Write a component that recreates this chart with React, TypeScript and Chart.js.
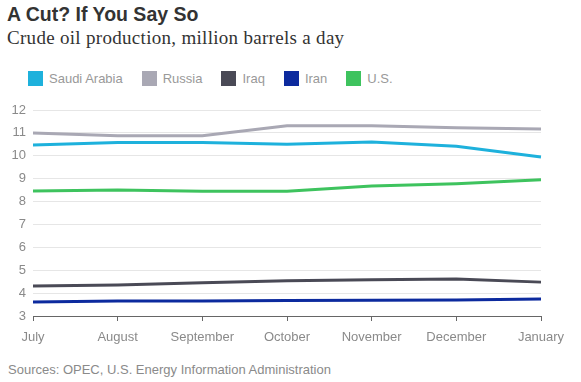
import React, { useEffect, useRef } from "react";
import { Chart, registerables } from "chart.js";

Chart.register(...registerables);

const months = ["July", "August", "September", "October", "November", "December", "January"];
const seriesNames = ["Saudi Arabia", "Russia", "Iraq", "Iran", "U.S."];
const seriesColors = ["#1eb1dc", "#a9a8b4", "#4a4a56", "#0c2a9e", "#3ec35e"];
const saudiArabia = [10.47, 10.58, 10.58, 10.5, 10.6, 10.42, 9.95];
const russia = [11.0, 10.87, 10.87, 11.31, 11.31, 11.22, 11.17];
const iraq = [4.31, 4.35, 4.45, 4.54, 4.58, 4.62, 4.48];
const iran = [3.61, 3.65, 3.66, 3.68, 3.69, 3.7, 3.74];
const us = [8.46, 8.5, 8.45, 8.45, 8.68, 8.78, 8.95];
const yTicks = [3, 4, 5, 6, 7, 8, 9, 10, 11, 12];

const seriesValues = [saudiArabia, russia, iraq, iran, us];

export default function App() {
  const ref = useRef<HTMLCanvasElement | null>(null);

  useEffect(() => {
    document.body.style.margin = "0";
    const canvas = ref.current;
    if (!canvas) return;
    const chart = new Chart(canvas, {
      type: "line",
      data: {
        labels: months,
        datasets: seriesNames.map((name, i) => ({
          label: name,
          data: seriesValues[i],
          borderColor: seriesColors[i],
          backgroundColor: seriesColors[i],
          borderWidth: 3,
          pointRadius: 0,
          tension: 0,
          fill: false,
        })),
      },
      options: {
        animation: false,
        responsive: false,
        maintainAspectRatio: false,
        layout: { padding: { top: 15, right: 40, bottom: 0, left: 0 } },
        plugins: { legend: { display: false }, tooltip: { enabled: false } },
        scales: {
          x: {
            offset: false,
            grid: {
              drawOnChartArea: false,
              drawTicks: true,
              tickLength: 5,
              color: "#666",
            },
            border: { display: true, color: "#666", width: 1 },
            ticks: {
              color: "#8a8a8a",
              padding: 9,
              maxRotation: 0,
              autoSkip: false,
              font: { family: "'Liberation Sans', Arial, sans-serif", size: 13 },
            },
            afterFit: (scale: any) => {
              scale.height = 34;
            },
          },
          y: {
            min: 3,
            max: 12,
            afterBuildTicks: (scale: any) => {
              scale.ticks = yTicks.map((v) => ({ value: v }));
            },
            grid: { color: "#e6e6e6", drawTicks: false, lineWidth: 1 },
            border: { display: false },
            ticks: {
              color: "#8a8a8a",
              padding: 7,
              font: { family: "'Liberation Sans', Arial, sans-serif", size: 13 },
            },
            afterFit: (scale: any) => {
              scale.width = 33;
            },
          },
        },
      },
    });
    return () => chart.destroy();
  }, []);

  const sans = "'Liberation Sans', Arial, sans-serif";

  return (
    <div style={{ position: "relative", width: 581, height: 382, background: "#fff", overflow: "hidden" }}>
      <div
        style={{
          position: "absolute",
          left: 7,
          top: 3,
          fontFamily: sans,
          fontWeight: 700,
          fontSize: 19.5,
          color: "#333",
          whiteSpace: "nowrap",
        }}
      >
        A Cut? If You Say So
      </div>
      <div
        style={{
          position: "absolute",
          left: 7,
          top: 27,
          fontFamily: "'Liberation Serif', 'Times New Roman', serif",
          fontSize: 19,
          letterSpacing: 0.3,
          color: "#333",
          whiteSpace: "nowrap",
        }}
      >
        Crude oil production, million barrels a day
      </div>
      <div
        style={{
          position: "absolute",
          left: 28,
          top: 71,
          display: "flex",
          alignItems: "center",
          fontFamily: sans,
          fontSize: 13,
          color: "#999",
          whiteSpace: "nowrap",
        }}
      >
        {seriesNames.map((name, i) => (
          <div key={name} style={{ display: "flex", alignItems: "center", marginRight: 19 }}>
            <span
              style={{
                display: "inline-block",
                width: 15,
                height: 15,
                background: seriesColors[i],
                marginRight: 6,
              }}
            />
            <span style={{ lineHeight: "15px" }}>{name}</span>
          </div>
        ))}
      </div>
      <canvas
        ref={ref}
        width={581}
        height={255}
        style={{ position: "absolute", left: 0, top: 95, width: 581, height: 255 }}
      />
      <div
        style={{
          position: "absolute",
          left: 8,
          top: 362,
          fontFamily: sans,
          fontSize: 13,
          color: "#8a8a8a",
          whiteSpace: "nowrap",
        }}
      >
        Sources: OPEC, U.S. Energy Information Administration
      </div>
    </div>
  );
}
